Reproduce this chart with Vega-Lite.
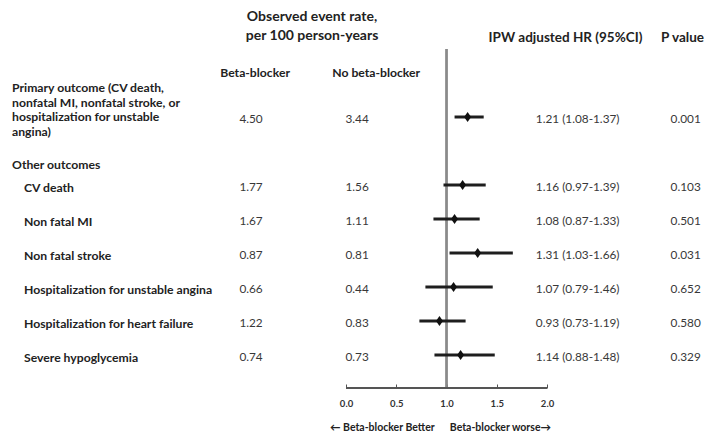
{
  "$schema": "https://vega.github.io/schema/vega-lite/v6.json",
  "width": 706,
  "height": 388,
  "autosize": {"type": "none"},
  "padding": {"top": 0, "left": 0, "right": 0, "bottom": 44},
  "background": "white",
  "config": {
    "view": {"stroke": null},
    "font": "Lato",
    "text": {"font": "Lato", "fontSize": 11.8, "color": "#383838", "baseline": "middle"}
  },
  "datasets": {
    "outcomes": [
      {"row": "primary", "group": "main", "outcome": "Primary outcome (CV death,\nnonfatal MI, nonfatal stroke, or\nhospitalization for unstable\nangina)", "bb": 4.50, "nobb": 3.44, "hr": 1.21, "lo": 1.08, "hi": 1.37, "hr_ci": "1.21 (1.08-1.37)", "p": 0.001},
      {"row": "cv", "group": "other", "outcome": "CV death", "bb": 1.77, "nobb": 1.56, "hr": 1.16, "lo": 0.97, "hi": 1.39, "hr_ci": "1.16 (0.97-1.39)", "p": 0.103},
      {"row": "mi", "group": "other", "outcome": "Non fatal MI", "bb": 1.67, "nobb": 1.11, "hr": 1.08, "lo": 0.87, "hi": 1.33, "hr_ci": "1.08 (0.87-1.33)", "p": 0.501},
      {"row": "stroke", "group": "other", "outcome": "Non fatal stroke", "bb": 0.87, "nobb": 0.81, "hr": 1.31, "lo": 1.03, "hi": 1.66, "hr_ci": "1.31 (1.03-1.66)", "p": 0.031},
      {"row": "ua", "group": "other", "outcome": "Hospitalization for unstable angina", "bb": 0.66, "nobb": 0.44, "hr": 1.07, "lo": 0.79, "hi": 1.46, "hr_ci": "1.07 (0.79-1.46)", "p": 0.652},
      {"row": "hf", "group": "other", "outcome": "Hospitalization for heart failure", "bb": 1.22, "nobb": 0.83, "hr": 0.93, "lo": 0.73, "hi": 1.19, "hr_ci": "0.93 (0.73-1.19)", "p": 0.580},
      {"row": "sev", "group": "other", "outcome": "Severe hypoglycemia", "bb": 0.74, "nobb": 0.73, "hr": 1.14, "lo": 0.88, "hi": 1.48, "hr_ci": "1.14 (0.88-1.48)", "p": 0.329}
    ]
  },
  "data": {"name": "outcomes"},
  "encoding": {
    "y": {
      "field": "row",
      "type": "nominal",
      "scale": {
        "type": "point",
        "domain": ["top", "col", "primary", "other", "cv", "mi", "stroke", "ua", "hf", "sev"],
        "range": [49, 355],
        "padding": 0
      },
      "axis": null
    }
  },
  "layer": [
    {
      "mark": {"type": "rule", "color": "#8a8a8a", "strokeWidth": 1.5},
      "encoding": {
        "x": {"datum": 1, "type": "quantitative", "scale": {"domain": [-3.443, 3.582], "nice": false, "zero": false},
          "axis": {
            "values": [0, 0.5, 1, 1.5, 2],
            "format": ".1f",
            "domain": false,
            "grid": false,
            "tickSize": -4,
            "tickColor": "#555",
            "labelPadding": 14,
            "labelFont": "Lato",
            "labelFontSize": 9.5,
            "labelFontWeight": "bold",
            "labelColor": "#333",
            "title": "\u2190 Beta-blocker Better\u00a0\u00a0\u00a0\u00a0\u00a0\u00a0Beta-blocker worse\u2192",
            "titleFont": "Lato",
            "titleFontSize": 10.5,
            "titleFontWeight": "bold",
            "titleColor": "#222",
            "titleX": 440,
            "titleY": 39,
            "titleBaseline": "middle"
          }
        },
        "y": {"datum": "top", "type": "nominal"},
        "y2": {"value": "height"}
      }
    },
    {
      "mark": {"type": "rule", "color": "#555", "strokeWidth": 1},
      "encoding": {
        "x": {"datum": 0, "type": "quantitative"},
        "x2": {"datum": 2},
        "y": {"value": "height"}
      }
    },
    {
      "mark": {"type": "rule", "color": "#1e1e1e", "strokeWidth": 3},
      "encoding": {
        "x": {"field": "lo", "type": "quantitative"},
        "x2": {"field": "hi"}
      }
    },
    {
      "mark": {"type": "point", "shape": "M0,-1L0.7,0L0,1L-0.7,0Z", "filled": true, "size": 100, "color": "#111", "opacity": 1},
      "encoding": {
        "x": {"field": "hr", "type": "quantitative"}
      }
    },
    {
      "transform": [{"filter": "datum.group == 'main'"}],
      "mark": {"type": "text", "align": "left", "fontWeight": "bold", "fontSize": 12.2, "color": "#222", "lineBreak": "\n", "lineHeight": 14.5, "dy": -29},
      "encoding": {
        "x": {"datum": -3.323, "type": "quantitative"},
        "text": {"field": "outcome"}
      }
    },
    {
      "transform": [{"filter": "datum.group == 'other'"}],
      "mark": {"type": "text", "align": "left", "fontWeight": "bold", "fontSize": 12.2, "color": "#222", "dy": 3},
      "encoding": {
        "x": {"datum": -3.204, "type": "quantitative"},
        "text": {"field": "outcome"}
      }
    },
    {
      "mark": {"type": "text", "align": "center", "dy": 2},
      "encoding": {
        "x": {"datum": -0.945, "type": "quantitative"},
        "text": {"field": "bb", "type": "quantitative", "format": ".2f"}
      }
    },
    {
      "mark": {"type": "text", "align": "center", "dy": 2},
      "encoding": {
        "x": {"datum": 0.11, "type": "quantitative"},
        "text": {"field": "nobb", "type": "quantitative", "format": ".2f"}
      }
    },
    {
      "mark": {"type": "text", "align": "center", "dy": 2},
      "encoding": {
        "x": {"datum": 2.305, "type": "quantitative"},
        "text": {"field": "hr_ci"}
      }
    },
    {
      "mark": {"type": "text", "align": "center", "dy": 2},
      "encoding": {
        "x": {"datum": 3.38, "type": "quantitative"},
        "text": {"field": "p", "type": "quantitative", "format": ".3f"}
      }
    },
    {
      "data": {"values": [{"row": "other", "label": "Other outcomes"}]},
      "mark": {"type": "text", "align": "left", "fontWeight": "bold", "fontSize": 12.2, "color": "#222", "dy": 14},
      "encoding": {
        "x": {"datum": -3.323, "type": "quantitative"},
        "text": {"field": "label"}
      }
    },
    {
      "data": {"values": [
        {"row": "col", "label": "Beta-blocker", "col": "bb"},
        {"row": "col", "label": "No beta-blocker", "col": "nobb"}
      ]},
      "transform": [{"filter": "datum.col == 'bb'"}],
      "mark": {"type": "text", "align": "center", "fontWeight": "bold", "fontSize": 12.2, "color": "#222", "dy": -10},
      "encoding": {
        "x": {"datum": -0.905, "type": "quantitative"},
        "text": {"field": "label"}
      }
    },
    {
      "data": {"values": [
        {"row": "col", "label": "Beta-blocker", "col": "bb"},
        {"row": "col", "label": "No beta-blocker", "col": "nobb"}
      ]},
      "transform": [{"filter": "datum.col == 'nobb'"}],
      "mark": {"type": "text", "align": "center", "fontWeight": "bold", "fontSize": 12.2, "color": "#222", "dy": -10},
      "encoding": {
        "x": {"datum": 0.30, "type": "quantitative"},
        "text": {"field": "label"}
      }
    },
    {
      "data": {"values": [{"row": "top", "label": "Observed event rate,\nper 100 person-years"}]},
      "mark": {"type": "text", "align": "center", "fontWeight": "bold", "fontSize": 14, "color": "#222", "lineBreak": "\n", "lineHeight": 19, "dy": -32},
      "encoding": {
        "x": {"datum": -0.338, "type": "quantitative"},
        "text": {"field": "label"}
      }
    },
    {
      "data": {"values": [{"row": "top", "label": "IPW adjusted HR (95%CI)"}]},
      "mark": {"type": "text", "align": "center", "fontWeight": "bold", "fontSize": 13.5, "color": "#222", "dy": -11},
      "encoding": {
        "x": {"datum": 2.184, "type": "quantitative"},
        "text": {"field": "label"}
      }
    },
    {
      "data": {"values": [{"row": "top", "label": "P value"}]},
      "mark": {"type": "text", "align": "center", "fontWeight": "bold", "fontSize": 13.5, "color": "#222", "dy": -11},
      "encoding": {
        "x": {"datum": 3.349, "type": "quantitative"},
        "text": {"field": "label"}
      }
    }
  ]
}
